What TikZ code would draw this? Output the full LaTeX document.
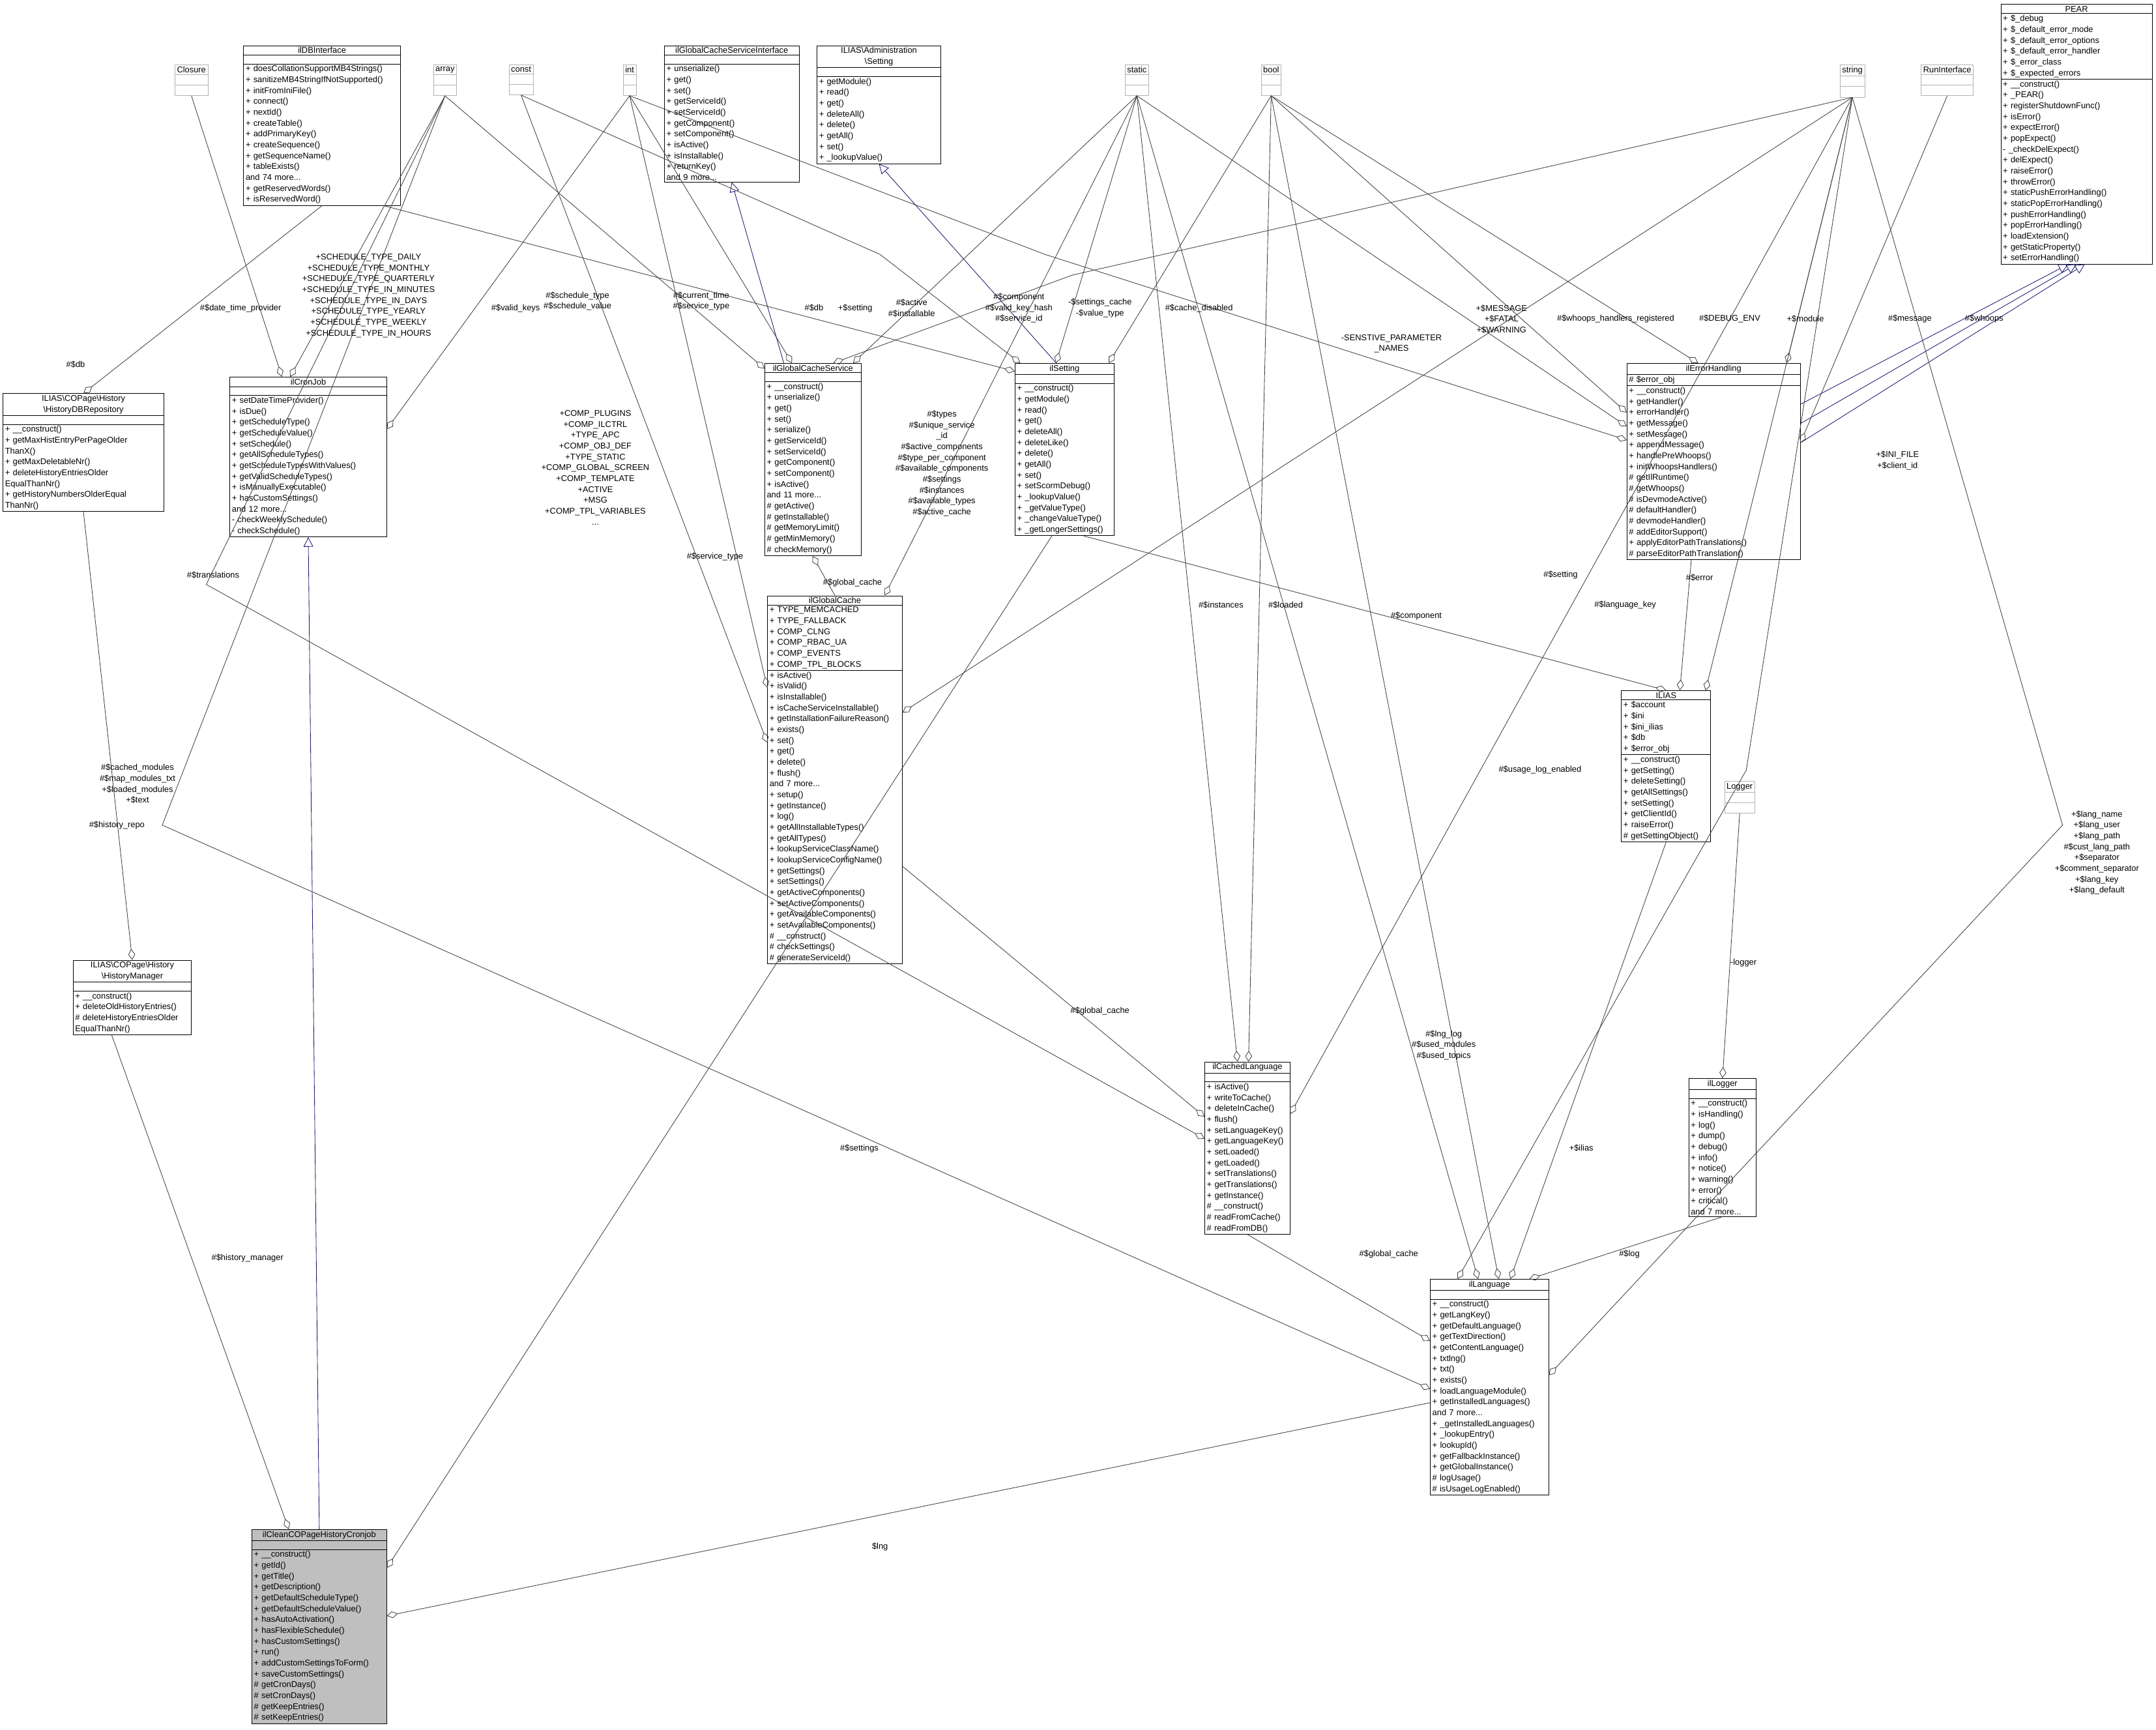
\documentclass[tikz,border=0pt]{standalone}
\usepackage{fontspec}
\setmainfont{Liberation Sans}
\usetikzlibrary{shapes.multipart,arrows.meta}
\definecolor{edgeblue}{HTML}{191970}
\newcommand{\ttl}[1]{\leavevmode\hbox to \hsize{\hfil#1\hfil}}
\newcommand{\nomem}{\rule{0pt}{4pt}}
\tikzset{
  cls/.style={draw, rectangle split, rectangle split parts=3, anchor=north west,
    align=left, inner xsep=1.5pt, inner ysep=1pt, rectangle split empty part height=5pt},
  ext/.style={cls, draw=gray!60},
  agg/.style={draw=black!75, -{Diamond[open,length=8pt,width=5pt]}},
  inh/.style={draw=edgeblue, -{Triangle[open,length=7pt,width=7pt]}},
  lbl/.style={inner sep=0pt, align=center}
}
\begin{document}
\begin{tikzpicture}[x=1pt,y=-1pt,font=\fontsize{6.1}{7.9}\selectfont]
\useasboundingbox (0,0) rectangle (1568,1258);
% outside types
\node[ext] (closure) at (127,47) {Closure\nodepart{two}\nodepart{three}};
\node[ext] (array) at (315,47) {array\nodepart{two}\nodepart{three}};
\node[ext] (const) at (370,47) {const\nodepart{two}\nodepart{three}};
\node[ext] (int) at (453,47) {int\nodepart{two}\nodepart{three}};
\node[ext] (static) at (818,47) {static\nodepart{two}\nodepart{three}};
\node[ext] (bool) at (917,47) {bool\nodepart{two}\nodepart{three}};
\node[ext] (string) at (1338,47) {string\nodepart{two}\nodepart{three}};
\node[ext] (runiface) at (1397,47) {RunInterface\nodepart{two}\nodepart{three}};
\node[ext] (logger) at (1254,568) {Logger\nodepart{two}\nodepart{three}};
% classes
\node[cls, text width=111pt] (dbiface) at (177,33) {\ttl{ilDBInterface}
 \nodepart{two}\nomem\nodepart{three} + doesCollationSupportMB4Strings()\\+ sanitizeMB4StringIfNotSupported()\\+ initFromIniFile()\\+ connect()\\+ nextId()\\+ createTable()\\+ addPrimaryKey()\\+ createSequence()\\+ getSequenceName()\\+ tableExists()\\and 74 more...\\+ getReservedWords()\\+ isReservedWord()};
\node[cls, text width=95pt] (gcsiface) at (483,33) {\ttl{ilGlobalCacheServiceInterface}
 \nodepart{two}\nomem\nodepart{three} + unserialize()\\+ get()\\+ set()\\+ getServiceId()\\+ setServiceId()\\+ getComponent()\\+ setComponent()\\+ isActive()\\+ isInstallable()\\+ returnKey()\\and 9 more...};
\node[cls, text width=87pt] (admsetting) at (594,33) {\ttl{ILIAS\textbackslash Administration}\\\ttl{\textbackslash Setting}
 \nodepart{two}\nomem\nodepart{three} + getModule()\\+ read()\\+ get()\\+ deleteAll()\\+ delete()\\+ getAll()\\+ set()\\+ \_lookupValue()};
\node[cls, text width=107pt] (pear) at (1455,3) {\ttl{PEAR}
 \nodepart{two} + \$\_debug\\+ \$\_default\_error\_mode\\+ \$\_default\_error\_options\\+ \$\_default\_error\_handler\\+ \$\_error\_class\\+ \$\_expected\_errors
 \nodepart{three} + \_\_construct()\\+ \_PEAR()\\+ registerShutdownFunc()\\+ isError()\\+ expectError()\\+ popExpect()\\- \_checkDelExpect()\\+ delExpect()\\+ raiseError()\\+ throwError()\\+ staticPushErrorHandling()\\+ staticPopErrorHandling()\\+ pushErrorHandling()\\+ popErrorHandling()\\+ loadExtension()\\+ getStaticProperty()\\+ setErrorHandling()};
\node[cls, text width=114pt] (histrepo) at (2,286) {\ttl{ILIAS\textbackslash COPage\textbackslash History}\\\ttl{\textbackslash HistoryDBRepository}
 \nodepart{two}\nomem\nodepart{three} + \_\_construct()\\+ getMaxHistEntryPerPageOlder\\ThanX()\\+ getMaxDeletableNr()\\+ deleteHistoryEntriesOlder\\EqualThanNr()\\+ getHistoryNumbersOlderEqual\\ThanNr()};
\node[cls, text width=111pt] (cronjob) at (167,274) {\ttl{ilCronJob}
 \nodepart{two}\nomem\nodepart{three} + setDateTimeProvider()\\+ isDue()\\+ getScheduleType()\\+ getScheduleValue()\\+ setSchedule()\\+ getAllScheduleTypes()\\+ getScheduleTypesWithValues()\\+ getValidScheduleTypes()\\+ isManuallyExecutable()\\+ hasCustomSettings()\\and 12 more...\\- checkWeeklySchedule()\\- checkSchedule()};
\node[cls, text width=67pt] (gcservice) at (556,264) {\ttl{ilGlobalCacheService}
 \nodepart{two}\nomem\nodepart{three} + \_\_construct()\\+ unserialize()\\+ get()\\+ set()\\+ serialize()\\+ getServiceId()\\+ setServiceId()\\+ getComponent()\\+ setComponent()\\+ isActive()\\and 11 more...\\\# getActive()\\\# getInstallable()\\\# getMemoryLimit()\\\# getMinMemory()\\\# checkMemory()};
\node[cls, text width=69pt] (setting) at (738,264) {\ttl{ilSetting}
 \nodepart{two}\nomem\nodepart{three} + \_\_construct()\\+ getModule()\\+ read()\\+ get()\\+ deleteAll()\\+ deleteLike()\\+ delete()\\+ getAll()\\+ set()\\+ setScormDebug()\\+ \_lookupValue()\\+ \_getValueType()\\+ \_changeValueType()\\+ \_getLongerSettings()};
\node[cls, text width=123pt] (errhandling) at (1183,264) {\ttl{ilErrorHandling}
 \nodepart{two} \# \$error\_obj
 \nodepart{three} + \_\_construct()\\+ getHandler()\\+ errorHandler()\\+ getMessage()\\+ setMessage()\\+ appendMessage()\\+ handlePreWhoops()\\+ initWhoopsHandlers()\\\# getIlRuntime()\\\# getWhoops()\\\# isDevmodeActive()\\\# defaultHandler()\\\# devmodeHandler()\\\# addEditorSupport()\\+ applyEditorPathTranslations()\\\# parseEditorPathTranslation()};
\node[cls, text width=95pt] (gcache) at (558,433) {\ttl{ilGlobalCache}
 \nodepart{two} + TYPE\_MEMCACHED\\+ TYPE\_FALLBACK\\+ COMP\_CLNG\\+ COMP\_RBAC\_UA\\+ COMP\_EVENTS\\+ COMP\_TPL\_BLOCKS
 \nodepart{three} + isActive()\\+ isValid()\\+ isInstallable()\\+ isCacheServiceInstallable()\\+ getInstallationFailureReason()\\+ exists()\\+ set()\\+ get()\\+ delete()\\+ flush()\\and 7 more...\\+ setup()\\+ getInstance()\\+ log()\\+ getAllInstallableTypes()\\+ getAllTypes()\\+ lookupServiceClassName()\\+ lookupServiceConfigName()\\+ getSettings()\\+ setSettings()\\+ getActiveComponents()\\+ setActiveComponents()\\+ getAvailableComponents()\\+ setAvailableComponents()\\\# \_\_construct()\\\# checkSettings()\\\# generateServiceId()};
\node[cls, text width=62pt] (ilias) at (1179,502) {\ttl{ILIAS}
 \nodepart{two} + \$account\\+ \$ini\\+ \$ini\_ilias\\+ \$db\\+ \$error\_obj
 \nodepart{three} + \_\_construct()\\+ getSetting()\\+ deleteSetting()\\+ getAllSettings()\\+ setSetting()\\+ getClientId()\\+ raiseError()\\\# getSettingObject()};
\node[cls, text width=83pt] (histmanager) at (53,698) {\ttl{ILIAS\textbackslash COPage\textbackslash History}\\\ttl{\textbackslash HistoryManager}
 \nodepart{two}\nomem\nodepart{three} + \_\_construct()\\+ deleteOldHistoryEntries()\\\# deleteHistoryEntriesOlder\\EqualThanNr()};
\node[cls, text width=59pt] (cachedlang) at (876,772) {\ttl{ilCachedLanguage}
 \nodepart{two}\nomem\nodepart{three} + isActive()\\+ writeToCache()\\+ deleteInCache()\\+ flush()\\+ setLanguageKey()\\+ getLanguageKey()\\+ setLoaded()\\+ getLoaded()\\+ setTranslations()\\+ getTranslations()\\+ getInstance()\\\# \_\_construct()\\\# readFromCache()\\\# readFromDB()};
\node[cls, text width=46pt] (illogger) at (1228,784) {\ttl{ilLogger}
 \nodepart{two}\nomem\nodepart{three} + \_\_construct()\\+ isHandling()\\+ log()\\+ dump()\\+ debug()\\+ info()\\+ notice()\\+ warning()\\+ error()\\+ critical()\\and 7 more...};
\node[cls, text width=83pt] (language) at (1040,930) {\ttl{ilLanguage}
 \nodepart{two}\nomem\nodepart{three} + \_\_construct()\\+ getLangKey()\\+ getDefaultLanguage()\\+ getTextDirection()\\+ getContentLanguage()\\+ txtlng()\\+ txt()\\+ exists()\\+ loadLanguageModule()\\+ getInstalledLanguages()\\and 7 more...\\+ \_getInstalledLanguages()\\+ \_lookupEntry()\\+ lookupId()\\+ getFallbackInstance()\\+ getGlobalInstance()\\\# logUsage()\\\# isUsageLogEnabled()};
\node[cls, text width=95pt, fill=black!25] (cleanjob) at (183,1112) {\ttl{ilCleanCOPageHistoryCronjob}
 \nodepart{two}\nomem\nodepart{three} + \_\_construct()\\+ getId()\\+ getTitle()\\+ getDescription()\\+ getDefaultScheduleType()\\+ getDefaultScheduleValue()\\+ hasAutoActivation()\\+ hasFlexibleSchedule()\\+ hasCustomSettings()\\+ run()\\+ addCustomSettingsToForm()\\+ saveCustomSettings()\\\# getCronDays()\\\# setCronDays()\\\# getKeepEntries()\\\# setKeepEntries()};
% inheritance
\draw[inh] (cleanjob.north) -- (cronjob.south);
\draw[inh] ([xshift=14pt]gcservice.north west) -- (gcsiface.south);
\draw[inh] ([xshift=-6pt]setting.north) -- (admsetting.south);
\draw[inh] ([yshift=-30pt]errhandling.north east) -- ([xshift=-6pt]pear.south);
\draw[inh] ([yshift=-44pt]errhandling.north east) -- (pear.south);
\draw[inh] ([yshift=-58pt]errhandling.north east) -- ([xshift=6pt]pear.south);
% members
\draw[agg] (dbiface.south) -- (histrepo.north);
\draw[agg] (closure.south) -- ([xshift=38pt]cronjob.north west);
\draw[agg] (array.south) -- ([xshift=44pt]cronjob.north west);
\draw[agg] (int.south) -- ([yshift=-38pt]cronjob.north east);
\draw[agg] ([xshift=45pt]dbiface.south) -- ([yshift=-6pt]setting.north west);
\draw[agg] (array.south) -- ([yshift=-4pt]gcservice.north west);
\draw[agg] (int.south) -- ([xshift=20pt]gcservice.north west);
\draw[agg] (static.south) -- ([xshift=-6pt]gcservice.north east);
\draw[agg] (string.south) -- (780,200) -- ([xshift=50pt]gcservice.north west);
\draw[agg] (const.south) -- (640,185) -- ([xshift=4pt]setting.north west);
\draw[agg] (static.south) -- ([xshift=30pt]setting.north west);
\draw[agg] (bool.south) -- ([xshift=-4pt]setting.north east);
\draw[agg] (bool.south) -- ([yshift=-36pt]errhandling.north west);
\draw[agg] (static.south) -- ([yshift=-46pt]errhandling.north west);
\draw[agg] (int.south) -- (760,185) -- ([yshift=-56pt]errhandling.north west);
\draw[agg] (bool.south) -- ([xshift=52pt]errhandling.north west);
\draw[agg] (string.south) -- ([xshift=-10pt]errhandling.north east);
\draw[agg] (runiface.south) -- ([yshift=-58pt]errhandling.north east);
\draw[agg] (gcache.north) -- ([xshift=35pt]gcservice.south west);
\draw[agg] (const.south) -- ([yshift=-107pt]gcache.north west);
\draw[agg] (int.south) -- ([yshift=-67pt]gcache.north west);
\draw[agg] (static.south) -- ([xshift=-13pt]gcache.north east);
\draw[agg] (string.south) -- ([yshift=-85pt]gcache.north east);
\draw[agg] ([xshift=50pt]setting.south west) -- (ilias.north);
\draw[agg] ([xshift=47pt]errhandling.south west) -- ([xshift=10pt]ilias.north);
\draw[agg] (string.south) -- ([xshift=-4pt]ilias.north east);
\draw[agg] ([yshift=-197pt]gcache.north east) -- ([yshift=-40pt]cachedlang.north west);
\draw[agg] (static.south) -- ([xshift=24pt]cachedlang.north west);
\draw[agg] (bool.south) -- ([xshift=32pt]cachedlang.north west);
\draw[agg] (string.south) -- ([yshift=-38pt]cachedlang.north east);
\draw[agg] (array.south) -- (150,425) -- ([yshift=-56pt]cachedlang.north west);
\draw[agg] (logger.south) -- (illogger.north);
\draw[agg] (cachedlang.south) -- ([yshift=-45pt]language.north west);
\draw[agg] (illogger.south) -- ([xshift=-14pt]language.north east);
\draw[agg] (ilias.south) -- ([xshift=-28pt]language.north east);
\draw[agg] (bool.south) -- ([xshift=50pt]language.north west);
\draw[agg] (static.south) -- ([xshift=35pt]language.north west);
\draw[agg] (string.south) -- (1270,560) -- ([xshift=20pt]language.north west);
\draw[agg] (string.south) -- (1500,600) -- ([yshift=-70pt]language.north east);
\draw[agg] (array.south) -- (118,600) -- ([yshift=-80pt]language.north west);
\draw[agg] (histrepo.south) -- (histmanager.north);
\draw[agg] ([xshift=-15pt]histmanager.south) -- ([xshift=27pt]cleanjob.north west);
\draw[agg] ([xshift=27pt]setting.south west) -- ([yshift=-28pt]cleanjob.north east);
\draw[agg] ([yshift=-90pt]language.north west) -- ([yshift=-63pt]cleanjob.north east);
% member labels
\node[lbl] (l1) at (55,265) {\#\$db};
\node[lbl] (l2) at (175,224) {\#\$date\_time\_provider};
\node[lbl] (l3) at (268,215) {+SCHEDULE\_TYPE\_DAILY\\+SCHEDULE\_TYPE\_MONTHLY\\+SCHEDULE\_TYPE\_QUARTERLY\\+SCHEDULE\_TYPE\_IN\_MINUTES\\+SCHEDULE\_TYPE\_IN\_DAYS\\+SCHEDULE\_TYPE\_YEARLY\\+SCHEDULE\_TYPE\_WEEKLY\\+SCHEDULE\_TYPE\_IN\_HOURS};
\node[lbl] (l4) at (420,219) {\#\$schedule\_type\\\#\$schedule\_value};
\node[lbl] (l5) at (375,224) {\#\$valid\_keys};
\node[lbl] (l6) at (510,219) {\#\$current\_time\\\#\$service\_type};
\node[lbl] (l7) at (663,224) {\#\$active\\\#\$installable};
\node[lbl] (l8) at (741,224) {\#\$component\\\#\$valid\_key\_hash\\\#\$service\_id};
\node[lbl] (l9) at (592,224) {\#\$db};
\node[lbl] (l10) at (622,224) {+\$setting};
\node[lbl] (l11) at (800,224) {-\$settings\_cache\\-\$value\_type};
\node[lbl] (l12) at (872,224) {\#\$cache\_disabled};
\node[lbl] (l13) at (1012,250) {-SENSTIVE\_PARAMETER\\\_NAMES};
\node[lbl] (l14) at (1092,232) {+\$MESSAGE\\+\$FATAL\\+\$WARNING};
\node[lbl] (l15) at (1175,232) {\#\$whoops\_handlers\_registered};
\node[lbl] (l16) at (1258,232) {\#\$DEBUG\_ENV};
\node[lbl] (l17) at (1313,232) {+\$module};
\node[lbl] (l18) at (1389,232) {\#\$message};
\node[lbl] (l19) at (1443,232) {\#\$whoops};
\node[lbl] (l20) at (620,424) {\#\$global\_cache};
\node[lbl] (l21) at (433,340) {+COMP\_PLUGINS\\+COMP\_ILCTRL\\+TYPE\_APC\\+COMP\_OBJ\_DEF\\+TYPE\_STATIC\\+COMP\_GLOBAL\_SCREEN\\+COMP\_TEMPLATE\\+ACTIVE\\+MSG\\+COMP\_TPL\_VARIABLES\\...};
\node[lbl] (l22) at (520,405) {\#\$service\_type};
\node[lbl] (l23) at (685,337) {\#\$types\\\#\$unique\_service\\\_id\\\#\$active\_components\\\#\$type\_per\_component\\\#\$available\_components\\\#\$settings\\\#\$instances\\\#\$available\_types\\\#\$active\_cache};
\node[lbl] (l24) at (1135,418) {\#\$setting};
\node[lbl] (l25) at (1236,420) {\#\$error};
\node[lbl] (l26) at (1380,335) {+\$INI\_FILE\\+\$client\_id};
\node[lbl] (l27) at (800,735) {\#\$global\_cache};
\node[lbl] (l28) at (888,440) {\#\$instances};
\node[lbl] (l29) at (935,440) {\#\$loaded};
\node[lbl] (l30) at (1182,440) {\#\$language\_key};
\node[lbl] (l31) at (155,418) {\#\$translations};
\node[lbl] (l32) at (1268,700) {-logger};
\node[lbl] (l33) at (1010,912) {\#\$global\_cache};
\node[lbl] (l34) at (1185,912) {\#\$log};
\node[lbl] (l35) at (1150,835) {+\$ilias};
\node[lbl] (l36) at (1120,560) {\#\$usage\_log\_enabled};
\node[lbl] (l37) at (1030,448) {\#\$component};
\node[lbl] (l38) at (1050,760) {\#\$lng\_log\\\#\$used\_modules\\\#\$used\_topics};
\node[lbl] (l39) at (1525,620) {+\$lang\_name\\+\$lang\_user\\+\$lang\_path\\\#\$cust\_lang\_path\\+\$separator\\+\$comment\_separator\\+\$lang\_key\\+\$lang\_default};
\node[lbl] (l40) at (100,570) {\#\$cached\_modules\\\#\$map\_modules\_txt\\+\$loaded\_modules\\+\$text};
\node[lbl] (l41) at (85,600) {\#\$history\_repo};
\node[lbl] (l42) at (180,915) {\#\$history\_manager};
\node[lbl] (l43) at (625,835) {\#\$settings};
\node[lbl] (l44) at (640,1125) {\$lng};
\end{tikzpicture}
\end{document}
